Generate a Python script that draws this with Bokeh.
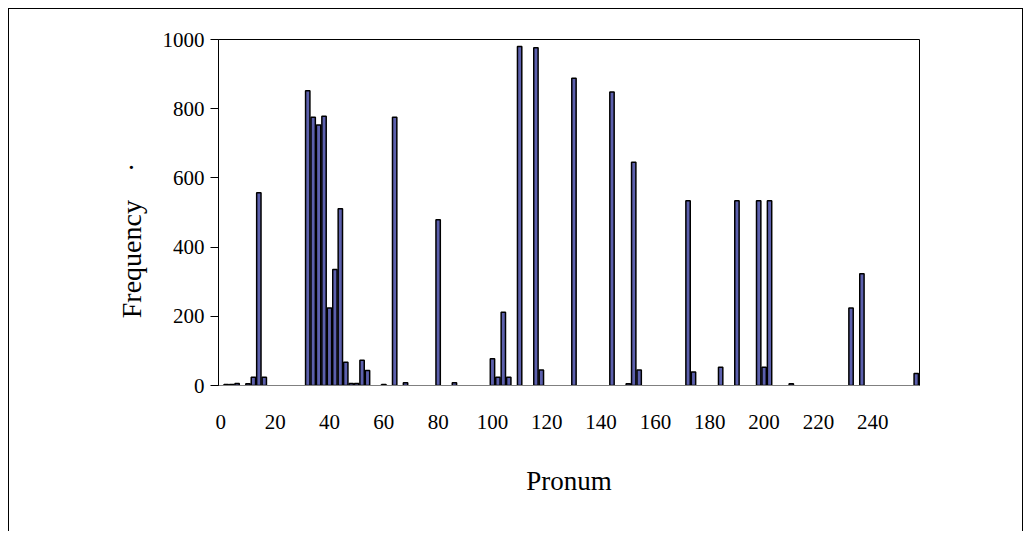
from bokeh.plotting import figure
from bokeh.models import Range1d, FixedTicker
from bokeh.embed import file_html
from bokeh.resources import INLINE

pronum = [2, 4, 6, 10, 12, 14, 16,
          32, 34, 36, 38, 40, 42, 44, 46, 48, 50, 52, 54,
          60, 64, 68, 80, 86,
          100, 102, 104, 106, 110, 116, 118,
          130, 144, 150, 152, 154,
          172, 174, 184, 190, 198, 200, 202, 210,
          232, 236, 256]
frequency = [3, 3, 6, 5, 24, 557, 24,
             852, 775, 753, 778, 224, 335, 511, 67, 6, 6, 73, 43,
             3, 775, 8, 479, 8,
             77, 24, 212, 24, 980, 976, 45,
             888, 848, 5, 645, 45,
             534, 39, 53, 534, 534, 53, 534, 5,
             224, 323, 35]
x_ticks = list(range(0, 241, 20))
y_ticks = list(range(0, 1001, 200))
x_title = "Pronum"
y_title = "Frequency" + "\u00a0" * 4 + "\u00b7" + "\u00a0" * 8

FONT = "Liberation Serif"

p = figure(width=1015, height=523, output_backend="svg", toolbar_location=None,
           x_range=Range1d(-0.85, 257.2), y_range=Range1d(0, 1000),
           min_border_left=209, min_border_right=105, min_border_top=30, min_border_bottom=147,
           background_fill_color="white", border_fill_color="white",
           styles={"margin-left": "8px", "margin-top": "8px",
                   "border-top": "1px solid #000", "border-left": "1px solid #000",
                   "border-right": "1px solid #000"})

p.vbar(x=pronum, top=frequency, bottom=0, width=1.6,
       fill_color="#5c60ad", line_color="black", line_width=1.5)

p.grid.visible = False
p.outline_line_color = "black"
p.outline_line_width = 1

p.xaxis.ticker = FixedTicker(ticks=x_ticks)
p.xaxis.major_tick_line_color = None
p.xaxis.minor_tick_line_color = None
p.xaxis.major_tick_out = 0
p.xaxis.major_tick_in = 0
p.xaxis.axis_line_color = "#808080"
p.xaxis.major_label_standoff = 29
p.xaxis.axis_label = x_title
p.xaxis.axis_label_standoff = 34

p.yaxis.ticker = FixedTicker(ticks=y_ticks)
p.yaxis.minor_tick_line_color = None
p.yaxis.major_tick_in = 0
p.yaxis.major_tick_out = 8
p.yaxis.major_tick_line_color = "black"
p.yaxis.axis_line_color = "black"
p.yaxis.major_label_standoff = 6
p.yaxis.axis_label = y_title
p.yaxis.axis_label_standoff = 13

for ax in (p.xaxis, p.yaxis):
    ax.major_label_text_font = FONT
    ax.major_label_text_font_size = "21px"
    ax.major_label_text_color = "black"
    ax.axis_label_text_font = FONT
    ax.axis_label_text_font_style = "normal"
    ax.axis_label_text_color = "black"
p.xaxis.axis_label_text_font_size = "27px"
p.yaxis.axis_label_text_font_size = "28px"

open("out.html", "w").write(file_html(p, INLINE))
